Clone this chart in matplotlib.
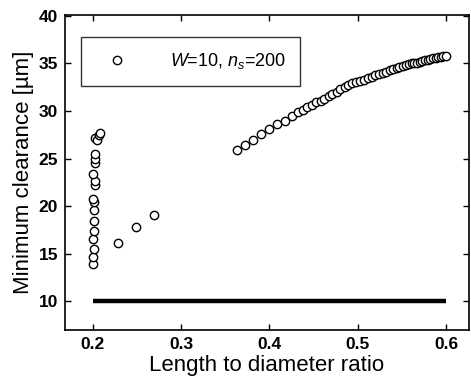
import numpy as np
import matplotlib
matplotlib.use('Agg')
from matplotlib import pyplot as plt

plt.rcParams['font.family'] = ['Liberation Sans', 'DejaVu Sans']
plt.rcParams['mathtext.fontset'] = 'custom'
plt.rcParams['mathtext.it'] = 'Liberation Sans:italic'
plt.rcParams['mathtext.rm'] = 'Liberation Sans'

# points near L/D = 0.2
x_low = [0.200, 0.200, 0.201, 0.200, 0.201, 0.201, 0.201, 0.201, 0.200, 0.202,
         0.203, 0.200, 0.203, 0.202, 0.203, 0.202, 0.205, 0.207, 0.208]
y_low = [13.9, 14.7, 15.5, 16.6, 17.4, 18.5, 19.6, 20.5, 20.8, 22.2,
         22.7, 23.4, 24.5, 25.0, 25.5, 27.2, 27.0, 27.5, 27.7]

# isolated points
x_mid = [0.229, 0.249, 0.269]
y_mid = [16.1, 17.8, 19.05]

# upper branch
x_up = [0.363, 0.372, 0.381, 0.391, 0.400, 0.409, 0.418, 0.426, 0.432, 0.438,
        0.443, 0.448, 0.453, 0.458, 0.462, 0.467, 0.471, 0.476, 0.480, 0.485,
        0.489, 0.494, 0.498, 0.503, 0.507, 0.512, 0.516, 0.520, 0.524, 0.528,
        0.532, 0.536, 0.540, 0.544, 0.547, 0.551, 0.554, 0.558, 0.561, 0.564,
        0.567, 0.570, 0.573, 0.576, 0.579, 0.582, 0.585, 0.588, 0.591, 0.594,
        0.597, 0.600]
y_up = [25.9, 26.4, 27.0, 27.6, 28.1, 28.6, 29.0, 29.5, 29.9, 30.1,
        30.4, 30.6, 30.9, 31.1, 31.3, 31.6, 31.8, 32.0, 32.3, 32.5,
        32.7, 32.9, 33.1, 33.2, 33.3, 33.5, 33.6, 33.8, 33.9, 34.0,
        34.1, 34.3, 34.4, 34.5, 34.6, 34.7, 34.8, 34.9, 35.0, 35.1,
        35.1, 35.2, 35.3, 35.4, 35.4, 35.5, 35.6, 35.6, 35.7, 35.7,
        35.8, 35.8]

# lower limit line
x_lim = [0.2, 0.6]
y_lim = [10, 10]

x_all = x_low + x_mid + x_up
y_all = y_low + y_mid + y_up

fig = plt.figure(figsize=(4.71, 3.82), dpi=100)
ax = fig.add_axes([0.138, 0.136, 0.858, 0.825])

ax.plot(x_lim, y_lim, color='black', lw=3.2, solid_capstyle='butt')
ax.plot(x_all, y_all, ls='none', marker='o', ms=6, mfc='white', mec='black',
        mew=1.0, label=r'$W$=10, $n_s$=200')

ax.set_xlim(0.1686, 0.626)
ax.set_ylim(7, 40.1)
ax.set_xticks([0.2, 0.3, 0.4, 0.5, 0.6])
ax.set_yticks([10, 15, 20, 25, 30, 35, 40])
ax.set_xticklabels(['0.2', '0.3', '0.4', '0.5', '0.6'], fontweight='bold')
ax.set_yticklabels(['10', '15', '20', '25', '30', '35', '40'], fontweight='bold')
ax.tick_params(direction='in', top=True, right=True, length=4, width=1,
               labelsize=12.5, pad=5)
for s in ax.spines.values():
    s.set_linewidth(1.2)

ax.set_xlabel('Length to diameter ratio', fontsize=16, labelpad=2)
ax.set_ylabel('Minimum clearance [\u00b5m]', fontsize=16, labelpad=3)

leg = ax.legend(loc='upper left', bbox_to_anchor=(0.04, 0.93), fontsize=13,
                frameon=True, fancybox=False, edgecolor='black',
                borderpad=0.8, handletextpad=1.7, borderaxespad=0,
                handlelength=2.4)
leg.get_frame().set_linewidth(1.0)

fig.savefig('out.png', dpi=100)
